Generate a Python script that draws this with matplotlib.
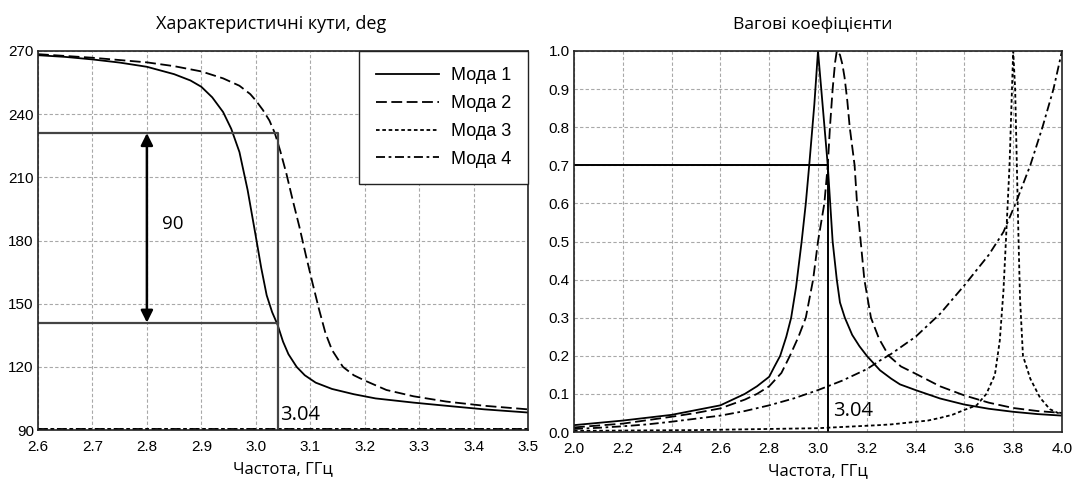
import numpy as np
import matplotlib.pyplot as plt

plt.rcParams['font.family'] = ['Liberation Sans', 'DejaVu Sans']

# ---- left chart: characteristic angles, deg ----
f1_deg = [2.6, 2.65, 2.7, 2.75, 2.8, 2.85, 2.88, 2.9, 2.92, 2.94, 2.955, 2.97, 2.985, 3.0,
          3.01, 3.02, 3.03, 3.04, 3.05, 3.06, 3.075, 3.09, 3.11, 3.14, 3.18, 3.22, 3.29,
          3.35, 3.42, 3.5]
m1_deg = [268, 267.2, 266, 264.5, 262.5, 259, 256, 253, 248, 241, 233, 222, 204, 182,
          167, 154, 146, 140, 132, 126, 120, 116, 112.5, 109.5, 107, 105, 103,
          101.5, 99.8, 98.3]
f2_deg = [2.6, 2.7, 2.8, 2.85, 2.9, 2.94, 2.97, 2.99, 3.0, 3.013, 3.025, 3.035, 3.045,
          3.056, 3.068, 3.08, 3.092, 3.104, 3.116, 3.128, 3.14, 3.16, 3.18, 3.2, 3.24,
          3.29, 3.35, 3.42, 3.5]
m2_deg = [268.5, 266.8, 264.6, 262.8, 260.3, 257, 253.5, 249.5, 246.5, 242, 237, 231,
          222.5, 212, 199, 186.6, 173, 160, 147.5, 136, 128, 120, 116, 113.5, 109,
          106, 103.5, 101.5, 99.8]
f34_deg = [2.6, 3.0, 3.5]
m3_deg = [90.4, 90.4, 90.4]
m4_deg = [90.5, 90.5, 90.5]

f_mark = 3.04
deg_hi, deg_lo = 231, 141

# ---- right chart: weight coefficients ----
f1_w = [2.0, 2.2, 2.4, 2.6, 2.7, 2.75, 2.8, 2.82, 2.845, 2.87, 2.89, 2.91, 2.933, 2.95,
        2.964, 2.985, 3.0, 3.02, 3.04, 3.05, 3.06, 3.077, 3.09, 3.11, 3.14, 3.17, 3.2,
        3.254, 3.3, 3.336, 3.4, 3.5, 3.6, 3.7, 3.8, 3.9, 4.0]
m1_w = [0.018, 0.03, 0.045, 0.07, 0.1, 0.12, 0.145, 0.17, 0.2, 0.25, 0.3, 0.38, 0.5,
        0.6, 0.7, 0.86, 1.0, 0.85, 0.7, 0.6, 0.5, 0.4, 0.34, 0.3, 0.255, 0.225, 0.2,
        0.162, 0.14, 0.125, 0.11, 0.088, 0.072, 0.061, 0.053, 0.047, 0.043]
f2_w = [2.0, 2.2, 2.4, 2.5, 2.6, 2.7, 2.75, 2.8, 2.85, 2.885, 2.92, 2.95, 2.98, 3.0,
        3.026, 3.04, 3.049, 3.06, 3.07, 3.077, 3.09, 3.1, 3.109, 3.12, 3.13, 3.15, 3.16,
        3.175, 3.19, 3.217, 3.25, 3.29, 3.34, 3.4, 3.5, 3.6, 3.7, 3.8, 3.9, 4.0]
m2_w = [0.012, 0.022, 0.04, 0.05, 0.062, 0.085, 0.1, 0.12, 0.155, 0.2, 0.25, 0.3, 0.4,
        0.5, 0.6, 0.7, 0.8, 0.9, 0.97, 1.0, 0.99, 0.965, 0.93, 0.87, 0.8, 0.7, 0.6,
        0.5, 0.4, 0.3, 0.245, 0.2, 0.172, 0.153, 0.12, 0.096, 0.077, 0.063, 0.055, 0.05]
f3_w = [2.0, 2.5, 3.0, 3.25, 3.3, 3.45, 3.5, 3.55, 3.6, 3.65, 3.69, 3.725, 3.745, 3.76,
        3.77, 3.785, 3.795, 3.8, 3.808, 3.815, 3.822, 3.828, 3.84, 3.87, 3.91, 3.95, 4.0]
m3_w = [0.003, 0.005, 0.01, 0.018, 0.02, 0.03, 0.037, 0.045, 0.058, 0.07, 0.1, 0.15,
        0.24, 0.37, 0.5, 0.7, 0.9, 1.0, 0.9, 0.7, 0.5, 0.35, 0.2, 0.14, 0.09, 0.06, 0.045]
f4_w = [2.0, 2.1, 2.2, 2.3, 2.4, 2.5, 2.6, 2.7, 2.8, 2.9, 3.0, 3.04, 3.1, 3.2, 3.26,
        3.3, 3.4, 3.5, 3.6, 3.7, 3.76, 3.81, 3.87, 3.92, 3.965, 4.0]
m4_w = [0.008, 0.011, 0.015, 0.02, 0.027, 0.035, 0.043, 0.055, 0.07, 0.088, 0.11, 0.12,
        0.135, 0.165, 0.19, 0.205, 0.25, 0.31, 0.385, 0.465, 0.525, 0.6, 0.7, 0.8,
        0.9, 1.0]
w_mark = 0.7

labels = ['Мода 1', 'Мода 2', 'Мода 3', 'Мода 4']
styles = ['-', (0, (6, 2.5)), (0, (2, 1.5)), (0, (5, 2, 1.5, 2))]

fig = plt.figure(figsize=(10.8, 4.84), dpi=100)
axL = fig.add_axes([38 / 1080, 54 / 484, 490 / 1080, 379 / 484])
axR = fig.add_axes([574 / 1080, 52 / 484, 488 / 1080, 381 / 484])

seg = ['Open Sans', 'DejaVu Sans']

for ax in (axL, axR):
    ax.grid(True, color='#a8a8a8', linestyle=(0, (3, 2)), linewidth=0.8)
    ax.set_axisbelow(True)
    ax.tick_params(length=0, labelsize=11, pad=3)
    ax.tick_params(axis='x', pad=7)
    for s in ax.spines.values():
        s.set_linewidth(1.2)
        s.set_color('#222222')

# left
axL.plot(f1_deg, m1_deg, color='black', lw=1.3, ls=styles[0], label=labels[0])
axL.plot(f2_deg, m2_deg, color='black', lw=1.3, ls=styles[1], label=labels[1])
axL.plot(f34_deg, m3_deg, color='black', lw=1.3, ls=styles[2], label=labels[2])
axL.plot(f34_deg, m4_deg, color='black', lw=1.3, ls=styles[3], label=labels[3])
axL.plot([2.6, f_mark, f_mark], [deg_hi, deg_hi, 90], color='#444444', lw=1.6)
axL.plot([2.6, f_mark], [deg_lo, deg_lo], color='#444444', lw=1.6)
axL.annotate('', xy=(2.8, deg_hi), xytext=(2.8, deg_lo),
             arrowprops=dict(arrowstyle='<|-|>', color='black', lw=1.8, mutation_scale=18,
                             shrinkA=0, shrinkB=0))
axL.text(2.827, 188, '90', fontsize=13.5, family=seg, va='center')
axL.text(f_mark + 0.005, 97, '3.04', fontsize=14.5, family=seg, va='center')
axL.set_xlim(2.6, 3.5)
axL.set_ylim(90, 270)
axL.set_xticks(np.arange(2.6, 3.51, 0.1))
axL.set_yticks(np.arange(90, 271, 30))
axL.xaxis.set_major_formatter(plt.FormatStrFormatter('%.1f'))
axL.set_title('Характеристичні кути, deg', pad=16, fontsize=13, family=seg, x=0.475)
axL.set_xlabel('Частота, ГГц', labelpad=5, fontsize=12, family=seg)
leg = axL.legend(loc='upper right', fontsize=13, handlelength=3.5, labelspacing=0.6,
                 borderaxespad=0, fancybox=False, framealpha=1, borderpad=0.9,
                 handletextpad=0.7)
leg.get_frame().set_edgecolor('#222222')
leg.get_frame().set_linewidth(1.0)

# right
axR.plot(f1_w, m1_w, color='black', lw=1.3, ls=styles[0])
axR.plot(f2_w, m2_w, color='black', lw=1.3, ls=styles[1])
axR.plot(f3_w, m3_w, color='black', lw=1.3, ls=styles[2])
axR.plot(f4_w, m4_w, color='black', lw=1.3, ls=styles[3])
axR.plot([2.0, f_mark, f_mark], [w_mark, w_mark, 0], color='black', lw=1.4)
axR.text(f_mark + 0.02, 0.055, '3.04', fontsize=14.5, family=seg, va='center')
axR.set_xlim(2.0, 4.0)
axR.set_ylim(0, 1.0)
axR.set_xticks(np.arange(2.0, 4.01, 0.2))
axR.set_yticks(np.arange(0, 1.01, 0.1))
axR.xaxis.set_major_formatter(plt.FormatStrFormatter('%.1f'))
axR.yaxis.set_major_formatter(plt.FormatStrFormatter('%.1f'))
axR.set_title('Вагові коефіцієнти', pad=16, fontsize=12.6, family=seg, x=0.49)
axR.set_xlabel('Частота, ГГц', labelpad=5, fontsize=12, family=seg)

fig.savefig('out.png', dpi=100)
